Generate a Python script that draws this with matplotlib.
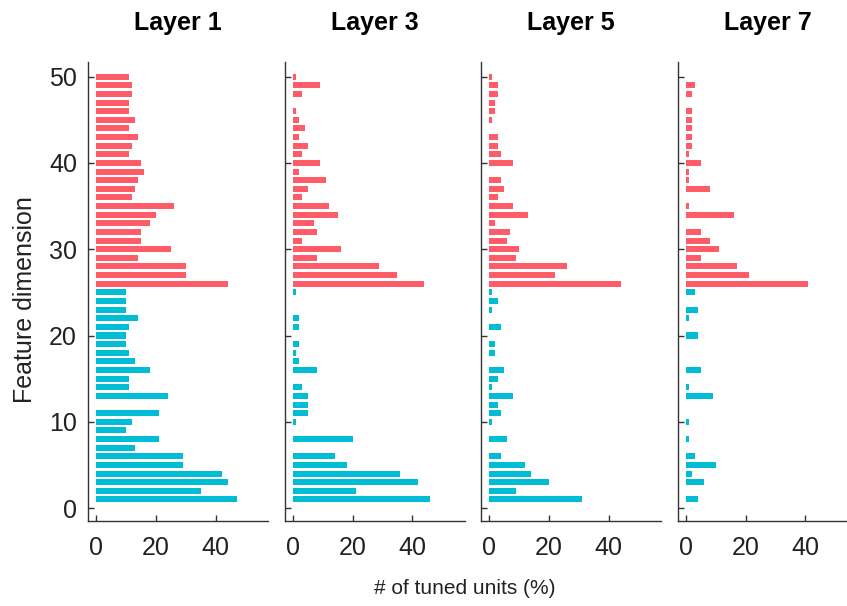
import matplotlib
matplotlib.use("Agg")
import matplotlib.pyplot as plt
import numpy as np

plt.rcParams['font.family'] = ['Liberation Sans', 'DejaVu Sans']

layers = ["Layer 1", "Layer 3", "Layer 5", "Layer 7"]
dims = list(range(1, 51))

# values for dimensions 1..25 (cyan) and 26..50 (red)
layer1_low = [47, 35, 44, 42, 29, 29, 13, 21, 10, 12, 21, 0, 24, 11, 11, 18, 13, 11, 10, 10, 11, 14, 10, 10, 10]
layer1_high = [44, 30, 30, 14, 25, 15, 15, 18, 20, 26, 12, 13, 14, 16, 15, 11, 12, 14, 11, 13, 11, 11, 12, 12, 11]
layer3_low = [46, 21, 42, 36, 18, 14, 0, 20, 0, 1, 5, 5, 5, 3, 0, 8, 2, 1, 2, 0, 2, 2, 0, 0, 1]
layer3_high = [44, 35, 29, 8, 16, 3, 8, 7, 15, 12, 3, 5, 11, 2, 9, 3, 5, 2, 4, 2, 1, 0, 3, 9, 1]
layer5_low = [31, 9, 20, 14, 12, 4, 0, 6, 0, 1, 4, 3, 8, 1, 3, 5, 0, 2, 2, 0, 4, 0, 1, 3, 1]
layer5_high = [44, 22, 26, 9, 10, 6, 7, 2, 13, 8, 3, 5, 4, 0, 8, 4, 3, 3, 0, 1, 2, 2, 3, 3, 1]
layer7_low = [4, 0, 6, 2, 10, 3, 0, 1, 0, 1, 0, 0, 9, 1, 0, 5, 0, 0, 0, 4, 0, 1, 4, 0, 3]
layer7_high = [41, 21, 17, 5, 11, 8, 5, 0, 16, 1, 0, 8, 1, 1, 5, 1, 2, 2, 2, 2, 2, 0, 2, 3, 0]

low_sets = [layer1_low, layer3_low, layer5_low, layer7_low]
high_sets = [layer1_high, layer3_high, layer5_high, layer7_high]

cyan = "#00BCD4"
red = "#FF5C6A"
spine_col = "#333333"
text_col = "#222222"

W, H = 847, 606
fig = plt.figure(figsize=(W / 100, H / 100), dpi=100)

lefts = [88, 284.5, 481, 677.5]
ax_w = 180
ax_bottom = 521
ax_top = 62

for i, (name, lo, hi) in enumerate(zip(layers, low_sets, high_sets)):
    ax = fig.add_axes([lefts[i] / W, (H - ax_bottom) / H, ax_w / W, (ax_bottom - ax_top) / H])
    ax.barh(dims[:25], lo, height=0.7, color=cyan, edgecolor='none')
    ax.barh(dims[25:], hi, height=0.7, color=red, edgecolor='none')
    ax.set_xlim(-2.8, 57.5)
    ax.set_ylim(-1.5, 51.7)
    ax.set_xticks([0, 20, 40])
    ax.set_yticks([0, 10, 20, 30, 40, 50])
    ax.tick_params(direction='in', length=4, width=1, colors=spine_col, labelsize=18, pad=8)
    ax.tick_params(axis='x', pad=11)
    for s in ['top', 'right']:
        ax.spines[s].set_visible(False)
    for s in ['left', 'bottom']:
        ax.spines[s].set_color(spine_col)
        ax.spines[s].set_linewidth(1.0)
    if i > 0:
        ax.set_yticklabels([])
    ax.set_title(name, fontsize=18, fontweight='bold', pad=23)
    for lab in ax.get_xticklabels() + ax.get_yticklabels():
        lab.set_color(text_col)

fig.text(25 / W, 1 - 300 / H, "Feature dimension", rotation=90, ha='center', va='center',
         fontsize=18, color=text_col)
fig.text(465 / W, 1 - 588 / H, "# of tuned units (%)", ha='center', va='center',
         fontsize=15, color=text_col)

fig.savefig("out.png", dpi=100)
